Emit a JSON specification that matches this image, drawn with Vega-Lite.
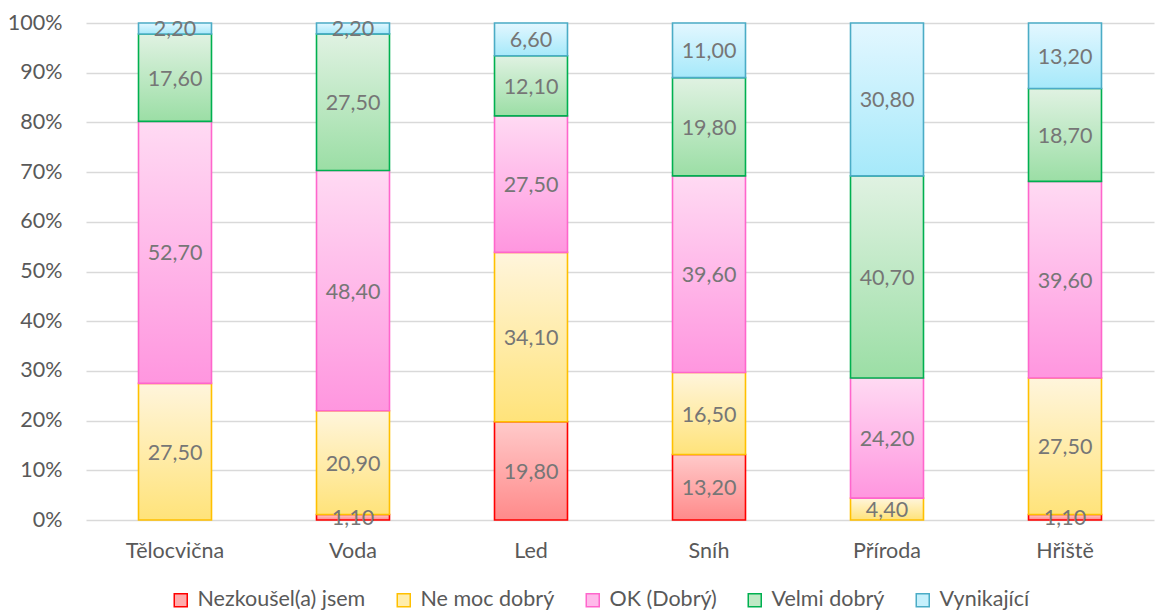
{
  "$schema": "https://vega.github.io/schema/vega-lite/v6.json",
  "width": 1068,
  "height": 497,
  "autosize": "none",
  "padding": {"left": 86, "top": 23, "right": 3, "bottom": 95},
  "background": "white",
  "data": {
    "values": [
      {"c": "Tělocvična", "s": "Ne moc dobrý", "v": 27.5},
      {"c": "Tělocvična", "s": "OK (Dobrý)", "v": 52.7},
      {"c": "Tělocvična", "s": "Velmi dobrý", "v": 17.6},
      {"c": "Tělocvična", "s": "Vynikající", "v": 2.2},
      {"c": "Voda", "s": "Nezkoušel(a) jsem", "v": 1.1},
      {"c": "Voda", "s": "Ne moc dobrý", "v": 20.9},
      {"c": "Voda", "s": "OK (Dobrý)", "v": 48.4},
      {"c": "Voda", "s": "Velmi dobrý", "v": 27.5},
      {"c": "Voda", "s": "Vynikající", "v": 2.2},
      {"c": "Led", "s": "Nezkoušel(a) jsem", "v": 19.8},
      {"c": "Led", "s": "Ne moc dobrý", "v": 34.1},
      {"c": "Led", "s": "OK (Dobrý)", "v": 27.5},
      {"c": "Led", "s": "Velmi dobrý", "v": 12.1},
      {"c": "Led", "s": "Vynikající", "v": 6.6},
      {"c": "Sníh", "s": "Nezkoušel(a) jsem", "v": 13.2},
      {"c": "Sníh", "s": "Ne moc dobrý", "v": 16.5},
      {"c": "Sníh", "s": "OK (Dobrý)", "v": 39.6},
      {"c": "Sníh", "s": "Velmi dobrý", "v": 19.8},
      {"c": "Sníh", "s": "Vynikající", "v": 11.0},
      {"c": "Příroda", "s": "Ne moc dobrý", "v": 4.4},
      {"c": "Příroda", "s": "OK (Dobrý)", "v": 24.2},
      {"c": "Příroda", "s": "Velmi dobrý", "v": 40.7},
      {"c": "Příroda", "s": "Vynikající", "v": 30.8},
      {"c": "Hřiště", "s": "Nezkoušel(a) jsem", "v": 1.1},
      {"c": "Hřiště", "s": "Ne moc dobrý", "v": 27.5},
      {"c": "Hřiště", "s": "OK (Dobrý)", "v": 39.6},
      {"c": "Hřiště", "s": "Velmi dobrý", "v": 18.7},
      {"c": "Hřiště", "s": "Vynikající", "v": 13.2}
    ]
  },
  "transform": [
    {"calculate": "indexof(['Nezkoušel(a) jsem','Ne moc dobrý','OK (Dobrý)','Velmi dobrý','Vynikající'], datum.s)", "as": "k"}
  ],
  "encoding": {
    "x": {
      "field": "c",
      "type": "nominal",
      "sort": ["Tělocvična", "Voda", "Led", "Sníh", "Příroda", "Hřiště"],
      "scale": {"paddingInner": 0.59, "paddingOuter": 0.295},
      "axis": {"title": null, "labelAngle": 0, "domain": false, "ticks": false, "labelFontSize": 21.5, "labelColor": "#595959", "labelPadding": 20}
    },
    "y": {
      "field": "v",
      "type": "quantitative",
      "stack": "normalize",
      "scale": {"domain": [0, 1], "nice": false},
      "axis": {"title": null, "format": ".0%", "values": [0, 0.1, 0.2, 0.3, 0.4, 0.5, 0.6, 0.7, 0.8, 0.9, 1], "domain": false, "ticks": false, "labelFontSize": 21.5, "labelColor": "#595959", "labelPadding": 24, "gridColor": "#d9d9d9", "gridWidth": 1.3}
    },
    "order": {"field": "k", "type": "quantitative"}
  },
  "layer": [
    {
      "mark": {"type": "bar", "strokeWidth": 1.6},
      "encoding": {
        "fill": {
          "field": "s",
          "type": "nominal",
          "sort": ["Nezkoušel(a) jsem", "Ne moc dobrý", "OK (Dobrý)", "Velmi dobrý", "Vynikající"],
          "scale": {
            "domain": ["Nezkoušel(a) jsem", "Ne moc dobrý", "OK (Dobrý)", "Velmi dobrý", "Vynikající"],
            "range": ["#ffabab", "#ffedac", "#ffbaea", "#bfe9c5", "#c6f0fc"]
          },
          "condition": [
            {"test": "datum.s === 'Nezkoušel(a) jsem'", "value": {"gradient": "linear", "x1": 0, "y1": 0, "x2": 0, "y2": 1, "stops": [{"offset": 0, "color": "#ffcaca"}, {"offset": 1, "color": "#ff8a8a"}]}},
            {"test": "datum.s === 'Ne moc dobrý'", "value": {"gradient": "linear", "x1": 0, "y1": 0, "x2": 0, "y2": 1, "stops": [{"offset": 0, "color": "#fff5dc"}, {"offset": 1, "color": "#ffe37a"}]}},
            {"test": "datum.s === 'OK (Dobrý)'", "value": {"gradient": "linear", "x1": 0, "y1": 0, "x2": 0, "y2": 1, "stops": [{"offset": 0, "color": "#ffdaf3"}, {"offset": 1, "color": "#ff96df"}]}},
            {"test": "datum.s === 'Velmi dobrý'", "value": {"gradient": "linear", "x1": 0, "y1": 0, "x2": 0, "y2": 1, "stops": [{"offset": 0, "color": "#e0f2e2"}, {"offset": 1, "color": "#9bdea5"}]}},
            {"test": "datum.s === 'Vynikající'", "value": {"gradient": "linear", "x1": 0, "y1": 0, "x2": 0, "y2": 1, "stops": [{"offset": 0, "color": "#e3f7ff"}, {"offset": 1, "color": "#a6e9fa"}]}}
          ],
          "legend": {"title": null}
        },
        "stroke": {
          "field": "s",
          "type": "nominal",
          "sort": ["Nezkoušel(a) jsem", "Ne moc dobrý", "OK (Dobrý)", "Velmi dobrý", "Vynikající"],
          "scale": {
            "domain": ["Nezkoušel(a) jsem", "Ne moc dobrý", "OK (Dobrý)", "Velmi dobrý", "Vynikající"],
            "range": ["#ff0000", "#ffc000", "#ff66cc", "#00b050", "#4bacc6"]
          },
          "legend": {"title": null}
        }
      }
    },
    {
      "mark": {"type": "text", "fontSize": 21.5, "color": "#767676", "baseline": "middle", "align": "center", "dy": 2},
      "encoding": {
        "y": {"field": "v", "type": "quantitative", "stack": "normalize", "bandPosition": 0.5},
        "text": {"field": "v", "type": "quantitative", "format": ".2f"}
      }
    }
  ],
  "config": {
    "font": "Lato",
    "view": {"stroke": null},
    "locale": {"number": {"decimal": ",", "thousands": " ", "grouping": [3], "currency": ["", " Kč"]}},
    "legend": {
      "orient": "none",
      "legendX": 84,
      "legendY": 566,
      "direction": "horizontal",
      "symbolType": "square",
      "symbolSize": 169,
      "symbolStrokeWidth": 1.5,
      "labelFontSize": 21.5,
      "labelColor": "#595959",
      "labelLimit": 400,
      "columnPadding": 27,
      "labelOffset": 6
    }
  }
}
